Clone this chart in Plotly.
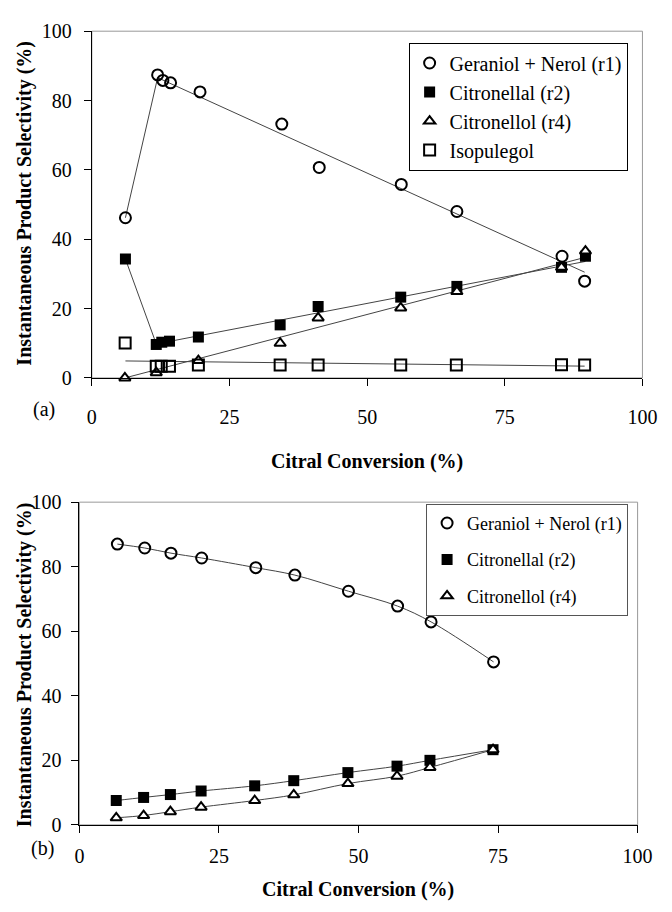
import plotly.graph_objects as go

# ---------------- Panel (a) data ----------------
a_ger_x = [6.1, 11.95, 12.9, 14.3, 19.65, 34.5, 41.3, 56.2, 66.3, 85.4, 89.5]
a_ger_y = [46.2, 87.4, 85.8, 85.1, 82.5, 73.2, 60.7, 55.8, 48.0, 35.1, 27.9]
a_cal_x = [6.1, 11.7, 12.7, 14.1, 19.35, 34.2, 41.1, 56.1, 66.3, 85.3, 89.65]
a_cal_y = [34.3, 9.65, 10.3, 10.6, 11.8, 15.3, 20.6, 23.3, 26.4, 31.9, 35.1]
a_col_x = [6.0, 11.7, 19.35, 34.2, 41.1, 56.1, 66.3, 85.3, 89.65]
a_col_y = [0.0, 1.5, 5.0, 10.0, 17.3, 20.2, 24.9, 31.9, 36.6]
a_iso_x = [6.05, 11.7, 12.6, 14.1, 19.35, 34.2, 41.1, 56.1, 66.2, 85.3, 89.5]
a_iso_y = [10.1, 3.4, 3.4, 3.4, 3.7, 3.7, 3.7, 3.7, 3.7, 3.8, 3.7]

# trend lines drawn in panel (a)
a_ger_fit_x = [6.1, 11.95, 89.5]
a_ger_fit_y = [46.2, 86.6, 30.5]
a_cal_fit_x = [6.1, 11.7, 89.65]
a_cal_fit_y = [34.3, 9.8, 33.6]
a_col_fit_x = [6.0, 89.65]
a_col_fit_y = [0.0, 34.8]
a_iso_fit_x = [6.1, 89.5]
a_iso_fit_y = [4.9, 3.4]

# ---------------- Panel (b) data ----------------
b_x_ger = [6.8, 11.7, 16.4, 21.9, 31.6, 38.6, 48.2, 57.0, 63.0, 74.2]
b_ger_y = [87.0, 85.8, 84.2, 82.7, 79.7, 77.4, 72.4, 67.8, 62.9, 50.5]
b_x = [6.6, 11.5, 16.3, 21.8, 31.4, 38.4, 48.1, 56.9, 62.8, 74.1]
b_cal_y = [7.55, 8.5, 9.4, 10.5, 12.1, 13.7, 16.2, 18.2, 20.0, 23.3]
b_col_y = [2.2, 2.9, 4.1, 5.5, 7.55, 9.3, 12.8, 15.1, 17.8, 23.3]

names = ["Geraniol + Nerol (r1)", "Citronellal (r2)", "Citronellol (r4)", "Isopulegol"]
x_ticks = [0, 25, 50, 75, 100]
y_ticks = [0, 20, 40, 60, 80, 100]

W, H = 672, 912
FONT = "Liberation Serif"
LINE = dict(color="#444", width=1)
SPLINE = dict(color="#444", width=1, shape="spline", smoothing=1.0)


def px_x(p):
    return p / W


def px_y(p):
    return 1 - p / H


fig = go.Figure()

# ---- panel (a) lines
for fx, fy in [(a_ger_fit_x, a_ger_fit_y), (a_cal_fit_x, a_cal_fit_y),
               (a_col_fit_x, a_col_fit_y), (a_iso_fit_x, a_iso_fit_y)]:
    fig.add_trace(go.Scatter(x=fx, y=fy, mode="lines", line=LINE, showlegend=False,
                             hoverinfo="skip", xaxis="x", yaxis="y"))

# ---- panel (b) lines
for fx, fy in [(b_x_ger, b_ger_y), (b_x, b_cal_y), (b_x, b_col_y)]:
    fig.add_trace(go.Scatter(x=fx, y=fy, mode="lines", line=SPLINE, showlegend=False,
                             hoverinfo="skip", xaxis="x2", yaxis="y2"))

mk_circle = dict(symbol="circle-open", size=11, color="black", line=dict(width=2, color="black"))
mk_sq = dict(symbol="square", size=11, color="black", line=dict(width=0))
mk_tri = dict(symbol="triangle-up", size=10, color="white", line=dict(width=2, color="black"))
mk_osq = dict(symbol="square-open", size=11, color="black", line=dict(width=2, color="black"))

fig.add_trace(go.Scatter(x=a_ger_x, y=a_ger_y, mode="markers", marker=mk_circle, name=names[0],
                         xaxis="x", yaxis="y", legend="legend", cliponaxis=False))
fig.add_trace(go.Scatter(x=a_cal_x, y=a_cal_y, mode="markers", marker=mk_sq, name=names[1],
                         xaxis="x", yaxis="y", legend="legend", cliponaxis=False))
fig.add_trace(go.Scatter(x=a_col_x, y=a_col_y, mode="markers", marker=mk_tri, name=names[2],
                         xaxis="x", yaxis="y", legend="legend", cliponaxis=False))
fig.add_trace(go.Scatter(x=a_iso_x, y=a_iso_y, mode="markers", marker=mk_osq, name=names[3],
                         xaxis="x", yaxis="y", legend="legend", cliponaxis=False))

fig.add_trace(go.Scatter(x=b_x_ger, y=b_ger_y, mode="markers", marker=mk_circle,
                         name=names[0], xaxis="x2", yaxis="y2", legend="legend2",
                         legendgroup="g1", cliponaxis=False))
fig.add_trace(go.Scatter(x=b_x, y=b_cal_y, mode="markers", marker=mk_sq,
                         name=names[1], xaxis="x2", yaxis="y2", legend="legend2",
                         legendgroup="g2", cliponaxis=False))
fig.add_trace(go.Scatter(x=b_x, y=b_col_y, mode="markers", marker=mk_tri,
                         name=names[2], xaxis="x2", yaxis="y2", legend="legend2",
                         legendgroup="g3", cliponaxis=False))

axis_common = dict(range=[0, 100], showgrid=False, zeroline=False, showline=True,
                   linecolor="black", linewidth=1, ticks="outside", ticklen=7,
                   tickcolor="black", tickfont=dict(family=FONT, size=20, color="black"))

fig.update_layout(
    width=W, height=H, margin=dict(l=0, r=0, t=0, b=0),
    paper_bgcolor="white", plot_bgcolor="white",
    font=dict(family=FONT, color="black"),
    xaxis=dict(axis_common, domain=[px_x(89.5), px_x(657)], anchor="y",
               tickvals=x_ticks, ticklabelstandoff=14),
    yaxis=dict(axis_common, domain=[px_y(376), px_y(20.7)], anchor="x",
               tickvals=y_ticks, ticklabelstandoff=8),
    xaxis2=dict(axis_common, domain=[px_x(76.7), px_x(652)], anchor="y2",
                tickvals=x_ticks, ticklabelstandoff=6),
    yaxis2=dict(axis_common, domain=[px_y(834), px_y(503.3)], anchor="x2",
                tickvals=y_ticks, ticklabelstandoff=6),
    legend=dict(x=px_x(416), y=px_y(32.3), xanchor="left", yanchor="top",
                bgcolor="white", bordercolor="black", borderwidth=1,
                font=dict(family=FONT, size=20, color="black"), itemwidth=30,
                tracegroupgap=0),
    legend2=dict(x=px_x(434), y=px_y(505), xanchor="left", yanchor="top",
                 bgcolor="white", bordercolor="#555", borderwidth=1,
                 font=dict(family=FONT, size=18, color="black"), itemwidth=30,
                 tracegroupgap=10),
)

# light frame (top/right borders)
for xr, yr in [("x domain", "y domain"), ("x2 domain", "y2 domain")]:
    fig.add_shape(type="rect", xref=xr, yref=yr, x0=0, x1=1, y0=0, y1=1,
                  line=dict(color="#999", width=1), layer="below")

title_font = dict(family=FONT, size=20, color="black")
ann = [
    dict(text="<b>Citral Conversion (%)</b>", x=px_x(373), y=px_y(462)),
    dict(text="<b>Citral Conversion (%)</b>", x=px_x(364), y=px_y(900)),
    dict(text="<b>Instantaneous Product Selectivity (%)</b>", x=px_x(20), y=px_y(197), textangle=-90),
    dict(text="<b>Instantaneous Product Selectivity (%)</b>", x=px_x(20), y=px_y(670), textangle=-90),
    dict(text="(a)", x=px_x(40), y=px_y(408)),
    dict(text="(b)", x=px_x(39), y=px_y(858)),
]
for a in ann:
    fig.add_annotation(xref="paper", yref="paper", showarrow=False, font=title_font,
                       xanchor="center", yanchor="middle", **a)

fig.write_html("out.html")
